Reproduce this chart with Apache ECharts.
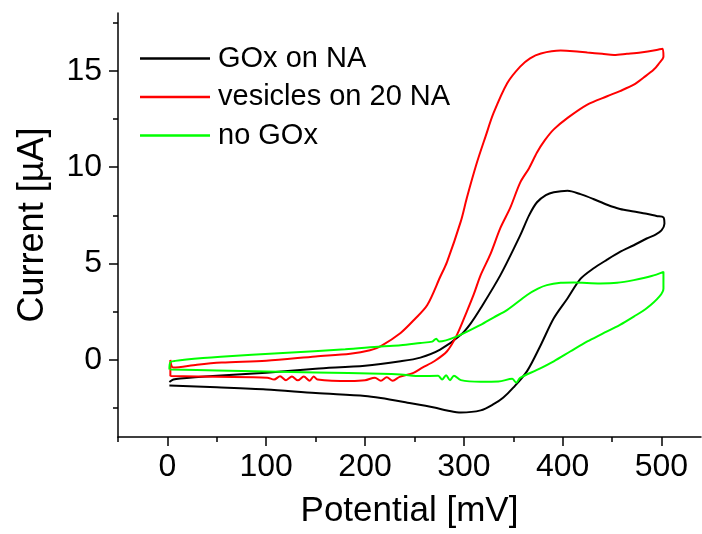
<!DOCTYPE html>
<html>
<head>
<meta charset="utf-8">
<script src="https://cdn.jsdelivr.net/npm/echarts@6/dist/echarts.min.js"></script>
<style>
  html, body { margin: 0; padding: 0; background: #fff; }
  #chart { width: 702px; height: 534px; }
</style>
</head>
<body>
<div id="chart"></div>
<script>
// potential [mV], current [uA] pairs in scan order
const goxOnNa = [
  [2, -1.15], [6, -1.02], [13, -0.96], [50, -0.82], [100, -0.66], [150, -0.46],
  [200, -0.3], [236, -0.07], [256, 0.12], [276, 0.53], [297, 1.3], [307, 1.9],
  [317, 2.68], [337, 4.4], [357, 6.46], [366, 7.5], [374, 8.18], [383, 8.55],
  [391, 8.7], [405, 8.78], [418, 8.6], [431, 8.35], [445, 8.05], [458, 7.83],
  [472, 7.7], [485, 7.58], [495, 7.47], [502, 7.4],
  [503, 7.06], [500, 6.72], [494, 6.5], [485, 6.3], [472, 5.95], [458, 5.6],
  [445, 5.2], [431, 4.74], [418, 4.2], [405, 3.2], [391, 2.16], [378, 0.79],
  [364, -0.58], [350, -1.44], [340, -1.95], [330, -2.3], [317, -2.62],
  [297, -2.73], [283, -2.62], [270, -2.47], [243, -2.22], [216, -1.98],
  [200, -1.87], [150, -1.72], [100, -1.53], [50, -1.42], [2, -1.33]
];

const vesiclesOn20Na = [
  [3, -0.85], [3, 0.0], [6, -0.4], [30, -0.25], [55, -0.14], [100, -0.04],
  [150, 0.18], [185, 0.32], [205, 0.5], [216, 0.72], [236, 1.4], [250, 2.1],
  [263, 2.85], [276, 4.3], [283, 5.09], [297, 7.2], [303, 8.4], [313, 10.2],
  [322, 11.6], [330, 12.8], [344, 14.37], [357, 15.22], [367, 15.65],
  [378, 15.9], [398, 16.05], [411, 16.02], [425, 15.95], [440, 15.88],
  [452, 15.82], [465, 15.88], [479, 15.95], [495, 16.08], [501, 16.15],
  [502, 15.74], [497, 15.35], [492, 15.05], [482, 14.65], [472, 14.28],
  [458, 13.95], [445, 13.68], [425, 13.25], [405, 12.56], [391, 11.96],
  [382, 11.4], [374, 10.76], [366, 9.95], [357, 9.2], [347, 7.9], [337, 6.85],
  [327, 5.5], [317, 4.4], [310, 3.4], [303, 2.51], [293, 1.3], [283, 0.45],
  [270, -0.07], [258, -0.4], [249, -0.67], [235, -0.88], [228, -1.08],
  [222, -0.9], [216, -1.08], [210, -0.92], [200, -1.06], [185, -1.1],
  [152, -1.02], [148, -0.86], [144, -1.08], [138, -0.86], [132, -1.06],
  [126, -0.86], [120, -1.05], [114, -0.85], [108, -1.02], [101, -0.92],
  [50, -0.88], [3, -0.84]
];

const noGox = [
  [2, -0.5], [3, -0.12], [8, -0.05], [36, 0.1], [54, 0.17], [117, 0.36],
  [180, 0.55], [216, 0.7], [236, 0.76], [256, 0.88], [268, 0.95], [272, 1.1],
  [275, 0.95], [293, 1.22], [317, 1.82], [330, 2.2], [344, 2.6], [364, 3.37],
  [375, 3.7], [384, 3.88], [398, 4.0], [411, 4.02], [438, 3.97], [455, 4.0],
  [472, 4.14], [490, 4.35], [502, 4.57],
  [502, 3.71], [498, 3.3], [485, 2.68], [472, 2.25], [458, 1.82], [440, 1.35],
  [425, 0.96], [408, 0.45], [391, -0.07], [374, -0.52], [357, -0.93],
  [353, -1.18], [349, -0.98], [335, -1.12], [317, -1.13], [297, -1.05],
  [290, -0.82], [286, -1.05], [282, -0.8], [278, -1.02], [274, -0.82],
  [256, -0.84], [236, -0.76], [216, -0.72], [150, -0.65], [100, -0.6],
  [50, -0.55], [3, -0.5]
];

const seriesNames = ['GOx on NA', 'vesicles on 20 NA', 'no GOx'];
const seriesColors = ['#000000', '#ff0000', '#00ff00'];
const seriesData = [goxOnNa, vesiclesOn20Na, noGox];

const xMajorTicks = [0, 100, 200, 300, 400, 500];
const xMinorTicks = [-50, 50, 150, 250, 350, 450];
const yMajorTicks = [0, 5, 10, 15];
const yMinorTicks = [-2.5, 2.5, 7.5, 12.5, 17.5];

const font = 'Liberation Sans, Arial, Helvetica, sans-serif';
const chart = echarts.init(document.getElementById('chart'));

const baseX = {
  type: 'value',
  min: -50,
  max: 540,
  position: 'bottom',
  splitLine: { show: false }
};
const baseY = {
  type: 'value',
  min: -4,
  max: 18,
  position: 'left',
  splitLine: { show: false }
};

chart.setOption({
  animation: false,
  backgroundColor: '#ffffff',
  grid: { left: 118, right: 1, top: 13, bottom: 94 },
  legend: {
    orient: 'vertical',
    left: 140,
    top: 44,
    padding: 0,
    icon: 'rect',
    itemWidth: 70,
    itemHeight: 2.5,
    itemGap: 9.5,
    data: seriesNames,
    textStyle: { fontFamily: font, fontSize: 29, color: '#000', lineHeight: 28, padding: [0, 0, 0, 3] }
  },
  xAxis: [
    Object.assign({}, baseX, {
      name: 'Potential [mV]',
      nameLocation: 'middle',
      nameGap: 57,
      nameTextStyle: { fontFamily: font, fontSize: 35, color: '#000' },
      axisLine: { show: true, onZero: false, lineStyle: { color: '#000', width: 1.5 } },
      axisTick: { show: true, length: 9, customValues: xMajorTicks, lineStyle: { color: '#000', width: 1.5 } },
      axisLabel: { customValues: xMajorTicks, fontFamily: font, fontSize: 32, color: '#000', margin: 14 }
    }),
    Object.assign({}, baseX, {
      axisLine: { show: false, onZero: false },
      axisTick: { show: true, length: 5, customValues: xMinorTicks, lineStyle: { color: '#000', width: 1.5 } },
      axisLabel: { show: false }
    })
  ],
  yAxis: [
    Object.assign({}, baseY, {
      name: 'Current [µA]',
      nameLocation: 'middle',
      nameGap: 67,
      nameTextStyle: { fontFamily: font, fontSize: 36, color: '#000' },
      axisLine: { show: true, onZero: false, lineStyle: { color: '#000', width: 1.5 } },
      axisTick: { show: true, length: 9, customValues: yMajorTicks, lineStyle: { color: '#000', width: 1.5 } },
      axisLabel: { customValues: yMajorTicks, fontFamily: font, fontSize: 32, color: '#000', margin: 16 }
    }),
    Object.assign({}, baseY, {
      axisLine: { show: false, onZero: false },
      axisTick: { show: true, length: 5, customValues: yMinorTicks, lineStyle: { color: '#000', width: 1.5 } },
      axisLabel: { show: false }
    })
  ],
  series: seriesNames.map((name, i) => ({
    name: name,
    type: 'line',
    data: seriesData[i],
    symbol: 'none',
    smooth: 0.3,
    color: seriesColors[i],
    lineStyle: { color: seriesColors[i], width: 2 }
  }))
});
</script>
</body>
</html>
